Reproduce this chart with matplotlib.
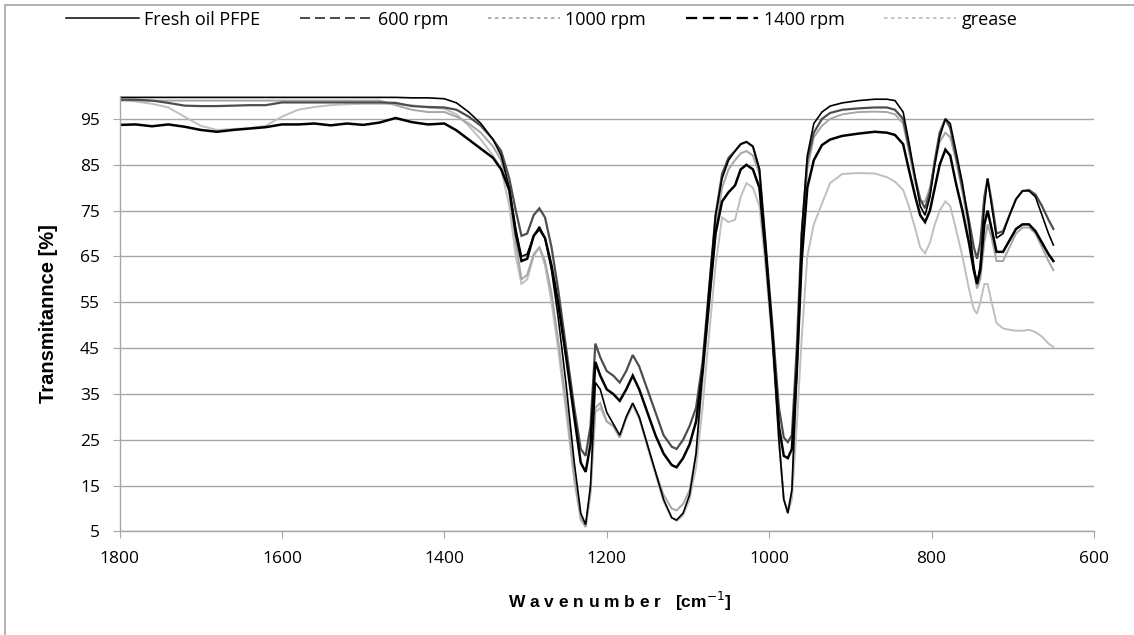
"""FTIR transmittance spectra of PFPE oil and grease after running at different speeds."""

import matplotlib.pyplot as plt
from matplotlib.lines import Line2D
from matplotlib.patches import Rectangle

plt.rcParams['font.family'] = ['Open Sans', 'DejaVu Sans']

# wavenumbers [cm^-1]
wavenumber = [
    1800, 1780, 1760, 1740, 1720, 1700, 1680, 1660, 1640, 1620,
    1600, 1580, 1560, 1540, 1520, 1500, 1480, 1460, 1440, 1420,
    1400, 1385, 1370, 1355, 1340, 1330, 1320, 1312, 1305, 1298,
    1290, 1283, 1276, 1268, 1260, 1250, 1240, 1232, 1226, 1220,
    1214, 1208, 1200, 1192, 1184, 1176, 1168, 1160, 1150, 1140,
    1130, 1120, 1114, 1106, 1098, 1090, 1082, 1074, 1066, 1058,
    1050, 1042, 1035, 1028, 1020, 1012, 1004, 996, 988, 982,
    977, 972, 966, 960, 953, 945, 935, 925, 910, 890,
    870, 855, 845, 835, 828, 820, 814, 808, 802, 796,
    790, 783, 777, 770, 762, 754, 748, 744, 740, 735,
    731, 726, 720, 712, 704, 696, 688, 680, 672, 664,
    656, 650,
]

fresh_oil = [
    99.7, 99.7, 99.7, 99.7, 99.7, 99.7, 99.7, 99.7, 99.7, 99.7,
    99.7, 99.7, 99.7, 99.7, 99.7, 99.7, 99.7, 99.7, 99.6, 99.6,
    99.4, 98.5, 96.5, 94.0, 90.5, 87.0, 80.0, 71.0, 65.0, 65.5,
    69.5, 71.5, 69.0, 62.0, 52.0, 37.0, 20.0, 9.0, 6.5, 15.0,
    37.5, 36.0, 31.0, 28.5, 26.0, 30.0, 33.0, 30.0, 24.0, 18.0,
    12.0, 8.0, 7.5, 9.0, 13.0, 22.0, 40.0, 58.0, 74.0, 82.0,
    86.0, 88.0, 89.5, 90.0, 89.0, 84.0, 67.0, 48.0, 25.0, 12.0,
    9.0, 14.0, 40.0, 70.0, 87.0, 94.0, 96.5, 97.8, 98.5, 99.0,
    99.3, 99.3, 99.0, 96.5, 90.0, 82.0, 76.0, 74.0, 78.0, 85.0,
    91.0, 95.0, 94.0, 88.0, 81.0, 72.0, 63.0, 59.0, 63.0, 76.0,
    82.0, 76.0, 69.0, 70.0, 74.0, 77.5, 79.3, 79.3, 78.0, 74.0,
    70.0, 67.5,
]

rpm_600 = [
    99.2, 99.2, 99.0, 98.5, 97.9, 97.8, 97.8, 97.9, 98.0, 98.0,
    98.6, 98.6, 98.6, 98.6, 98.6, 98.6, 98.6, 98.5, 97.8, 97.6,
    97.5, 97.0, 95.5, 93.5, 90.5, 88.0, 82.0, 75.0, 69.5, 70.0,
    74.0, 75.5, 73.5, 67.0, 58.0, 45.0, 32.0, 23.0, 21.5, 28.0,
    46.0, 43.0, 40.0, 39.0, 37.5, 40.0, 43.5, 41.0, 36.0, 31.0,
    26.0, 23.5, 23.0, 25.0, 28.0, 32.0, 42.0, 58.0, 74.0, 83.0,
    86.5, 88.0, 89.5, 90.0, 89.0, 84.0, 67.0, 50.0, 32.0, 25.5,
    24.5, 26.0, 45.0, 70.0, 86.0, 92.0, 95.0, 96.3, 97.0, 97.3,
    97.5, 97.5, 97.0, 95.0, 89.0, 82.0, 77.5, 75.5, 79.0, 86.0,
    92.0, 95.0, 93.0, 87.0, 80.0, 73.0, 67.0, 64.5, 68.0, 78.0,
    82.0, 77.0, 70.0, 70.5, 74.0, 77.5, 79.3, 79.5, 78.5, 76.0,
    73.0, 71.0,
]

rpm_1000 = [
    99.0, 99.0, 99.0, 99.0, 99.0, 99.0, 99.0, 99.0, 99.0, 99.0,
    99.0, 99.0, 99.0, 99.0, 99.0, 99.0, 99.0, 98.0, 97.0, 96.5,
    96.5, 95.5, 94.0, 92.0, 89.0, 86.0, 79.0, 68.0, 60.0, 61.0,
    65.5, 67.0, 64.0, 57.0, 47.0, 33.0, 17.0, 8.0, 6.0, 14.0,
    32.0, 33.0, 29.0, 28.0, 25.5, 30.0, 33.0, 30.0, 24.0, 18.0,
    13.0, 10.0, 9.6, 11.0, 14.0, 22.0, 38.0, 55.0, 71.0, 80.0,
    84.0, 86.0, 87.5, 88.0, 87.0, 83.0, 66.0, 48.0, 25.0, 12.0,
    9.5, 14.0, 38.0, 66.0, 84.0, 91.0, 93.5, 95.0, 96.0, 96.5,
    96.6, 96.5, 96.0, 94.0, 88.0, 81.0, 77.0, 77.0, 80.0, 85.0,
    90.0, 92.0, 91.0, 86.0, 79.0, 71.0, 62.0, 58.0, 60.0, 68.0,
    72.0, 69.0, 64.0, 64.0, 67.0, 70.0, 71.3, 71.3, 70.0, 67.0,
    64.0, 62.0,
]

rpm_1400 = [
    93.7, 93.8, 93.4, 93.8, 93.3, 92.6, 92.2, 92.6, 92.9, 93.2,
    93.8, 93.8, 94.0, 93.6, 94.0, 93.7, 94.2, 95.2, 94.3, 93.8,
    94.0, 92.5, 90.5, 88.5, 86.5, 84.0, 79.5, 70.0, 64.0, 64.5,
    69.5, 71.0, 69.0, 63.0, 55.0, 43.0, 30.0, 20.0, 18.0, 24.0,
    42.0, 39.0, 36.0, 35.0, 33.5, 36.0, 39.0, 36.0, 31.0, 26.0,
    22.0, 19.5, 19.0, 21.0, 24.0, 29.0, 40.0, 55.0, 70.0, 77.0,
    79.0, 80.5, 84.0, 85.0, 84.0, 80.0, 65.0, 48.0, 28.0, 21.5,
    21.0, 23.0, 40.0, 64.0, 80.0, 86.0, 89.3, 90.5, 91.3, 91.8,
    92.2, 92.0, 91.5, 89.5, 84.0, 78.0, 74.0, 72.5, 75.0, 80.0,
    85.0, 88.3, 87.0, 81.0, 75.0, 68.0, 62.0, 59.0, 62.0, 72.0,
    75.0, 71.0, 66.0, 66.0, 68.5, 71.0, 72.0, 72.0, 70.5, 68.0,
    65.5, 64.0,
]

grease = [
    99.3, 98.8, 98.3, 97.5, 95.5, 93.5, 92.6, 92.8, 93.0, 93.5,
    95.5, 97.0, 97.6, 98.0, 98.2, 98.3, 98.3, 98.2, 98.0, 97.5,
    97.2, 96.0, 93.5, 90.5, 87.0, 84.0, 76.0, 65.0, 59.0, 60.0,
    65.0, 67.0, 63.0, 55.0, 45.0, 31.0, 16.0, 7.5, 6.0, 13.0,
    31.0, 32.0, 29.0, 28.0, 25.5, 29.5, 32.5, 29.5, 23.5, 17.5,
    11.5, 8.0, 7.3, 8.5, 12.0, 19.0, 32.0, 48.0, 63.0, 73.5,
    72.5, 73.0, 78.0, 81.0, 80.0, 76.0, 62.0, 46.0, 25.0, 12.0,
    9.0, 12.0, 28.0, 47.0, 65.0, 72.0, 76.5, 81.0, 83.0, 83.2,
    83.1, 82.3, 81.3, 79.5, 76.0, 71.0, 67.0, 65.7, 68.0, 72.0,
    75.0, 77.0, 76.0, 71.0, 65.0, 58.0, 53.5, 52.5, 55.0, 59.0,
    59.0, 55.0, 50.5, 49.3, 49.0, 48.8, 48.8, 49.0, 48.5, 47.5,
    46.0, 45.2,
]

series_names = ['Fresh oil PFPE', '600 rpm', '1000 rpm', '1400 rpm', 'grease']
series_data = [fresh_oil, rpm_600, rpm_1000, rpm_1400, grease]
line_colors = ['black', '#4d4d4d', '#a6a6a6', 'black', '#bfbfbf']
line_widths = [1.2, 1.6, 1.4, 1.8, 1.4]
legend_dashes = ['-', (0, (5, 2.5)), (0, (2, 2)), (0, (5, 2.5)), (0, (2, 2))]

fig = plt.figure(figsize=(11.34, 6.35), dpi=100)
ax = fig.add_axes([0.1054, 0.163, 0.8593, 0.6858])

# chart-area border
fig.patches.append(Rectangle((5 / 1134, -0.01), 1.0, 1.0 - 5 / 635 + 0.01,
                             transform=fig.transFigure, fill=False,
                             edgecolor='#a6a6a6', linewidth=1.2))

# draw the lighter traces first so the dark ones stay on top
for i in [4, 2, 1, 0, 3]:
    ax.plot(wavenumber, series_data[i], color=line_colors[i],
            linewidth=line_widths[i], solid_joinstyle='miter')

ax.set_xlim(1800, 600)
ax.set_ylim(5, 100)
ax.set_xticks(range(1800, 599, -200))
ax.set_yticks(range(5, 96, 10))
ax.grid(axis='y', color='#a6a6a6', linewidth=1.0)
ax.set_axisbelow(True)

for side in ['top', 'right']:
    ax.spines[side].set_visible(False)
for side in ['left', 'bottom']:
    ax.spines[side].set_color('#a6a6a6')
    ax.spines[side].set_linewidth(1.0)

ax.tick_params(axis='both', colors='#a6a6a6', labelcolor='black',
               labelsize=12.5, length=5, direction='out')
ax.tick_params(axis='x', pad=9)
ax.tick_params(axis='y', pad=9)

ax.set_xlabel('W a v e n u m b e r   [cm$^{-1}$]', fontsize=12.5,
              fontweight='bold', family=['Liberation Sans', 'DejaVu Sans'])
ax.xaxis.set_label_coords(0.513, -0.135)
ax.set_ylabel('Transmitannce [%]', fontsize=14.5, fontweight='bold', labelpad=16,
              family=['Liberation Sans', 'DejaVu Sans'])

# legend handles show the dash patterns of the original series
handles = [Line2D([], [], color=line_colors[i], linewidth=line_widths[i] * 0.9,
                  linestyle=legend_dashes[i]) for i in range(5)]
fig.legend(handles, series_names, loc='center', bbox_to_anchor=(0.478, 0.969),
           ncol=5, frameon=False, fontsize=13, handlelength=4.0,
           handletextpad=0.3, columnspacing=2.2)

fig.savefig('out.png', dpi=100)
